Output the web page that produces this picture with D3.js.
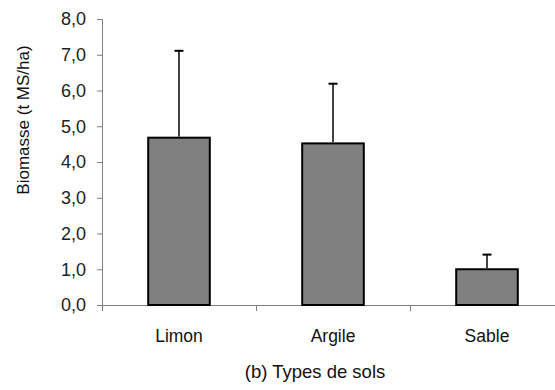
<!DOCTYPE html>
<html>
<head>
<meta charset="utf-8">
<script src="https://cdn.jsdelivr.net/npm/d3@7"></script>
<style>
  html, body { margin: 0; padding: 0; background: #fff; }
  svg { display: block; font-family: Arial, "Liberation Sans", sans-serif; }
</style>
</head>
<body>
<svg id="chart" width="555" height="390"></svg>
<script>
// Soil types and mean biomass with upper standard deviation
const categories = ["Limon", "Argile", "Sable"];
const biomass = [4.68, 4.52, 1.00];
const errorTop = [7.11, 6.19, 1.41];
const yTicks = [0, 1, 2, 3, 4, 5, 6, 7, 8];

const svg = d3.select("#chart");
const plotLeft = 102, plotRight = 564, plotTop = 19, plotBottom = 305;

const x = d3.scaleBand().domain(categories).range([plotLeft, plotRight]).padding(0);
const y = d3.scaleLinear().domain([0, 8]).range([plotBottom, plotTop]);
const fmt = v => d3.format(".1f")(v).replace(".", ",");
const axisColor = "#808080";

// Y axis
const yAxis = svg.append("g")
  .attr("transform", `translate(${plotLeft},0)`)
  .call(d3.axisLeft(y).tickValues(yTicks).tickFormat(fmt).tickSize(5).tickPadding(11));
yAxis.select(".domain").attr("stroke", axisColor).attr("d", `M0.5,${plotTop}V${plotBottom + 6}`);
yAxis.selectAll(".tick line").attr("stroke", axisColor);
yAxis.selectAll(".tick text").attr("fill", "#222").attr("font-size", 18)
  .attr("font-family", "Arial, 'Liberation Sans', sans-serif");

// X axis: line along zero with ticks at category boundaries
svg.append("line")
  .attr("x1", plotLeft).attr("x2", plotRight)
  .attr("y1", y(0) + 0.5).attr("y2", y(0) + 0.5)
  .attr("stroke", axisColor);
const bounds = categories.map(c => x(c)).concat([x(categories[2]) + x.bandwidth()]);
svg.selectAll(".xtick").data(bounds.slice(1)).enter().append("line")
  .attr("x1", d => Math.round(d) + 0.5).attr("x2", d => Math.round(d) + 0.5)
  .attr("y1", y(0)).attr("y2", y(0) + 6)
  .attr("stroke", axisColor);

svg.selectAll(".xlabel").data(categories).enter().append("text")
  .attr("x", d => x(d) + x.bandwidth() / 2)
  .attr("y", 342)
  .attr("text-anchor", "middle")
  .attr("font-size", 17.5)
  .attr("fill", "#111")
  .text(d => d);

// Bars
const barW = x.bandwidth() * 0.4;
svg.selectAll(".bar").data(categories).enter().append("rect")
  .attr("x", d => x(d) + (x.bandwidth() - barW) / 2)
  .attr("y", (d, i) => y(biomass[i]))
  .attr("width", barW)
  .attr("height", (d, i) => y(0) - y(biomass[i]))
  .attr("fill", "#808080")
  .attr("stroke", "#000")
  .attr("stroke-width", 2);

// Error bars (upper only)
svg.selectAll(".err").data(categories).enter().append("line")
  .attr("x1", d => x(d) + x.bandwidth() / 2)
  .attr("x2", d => x(d) + x.bandwidth() / 2)
  .attr("y1", (d, i) => y(biomass[i]) - 1)
  .attr("y2", (d, i) => y(errorTop[i]))
  .attr("stroke", "#444")
  .attr("stroke-width", 2);
svg.selectAll(".cap").data(categories).enter().append("line")
  .attr("x1", d => x(d) + x.bandwidth() / 2 - 4.5)
  .attr("x2", d => x(d) + x.bandwidth() / 2 + 4.5)
  .attr("y1", (d, i) => y(errorTop[i]))
  .attr("y2", (d, i) => y(errorTop[i]))
  .attr("stroke", "#000")
  .attr("stroke-width", 2);

// Axis titles
svg.append("text")
  .attr("transform", "translate(29,120) rotate(-90)")
  .attr("text-anchor", "middle")
  .attr("font-size", 17)
  .attr("fill", "#111")
  .text("Biomasse (t MS/ha)");

svg.append("text")
  .attr("x", 315)
  .attr("y", 378)
  .attr("text-anchor", "middle")
  .attr("font-size", 18.5)
  .attr("fill", "#111")
  .text("(b) Types de sols");
</script>
</body>
</html>
